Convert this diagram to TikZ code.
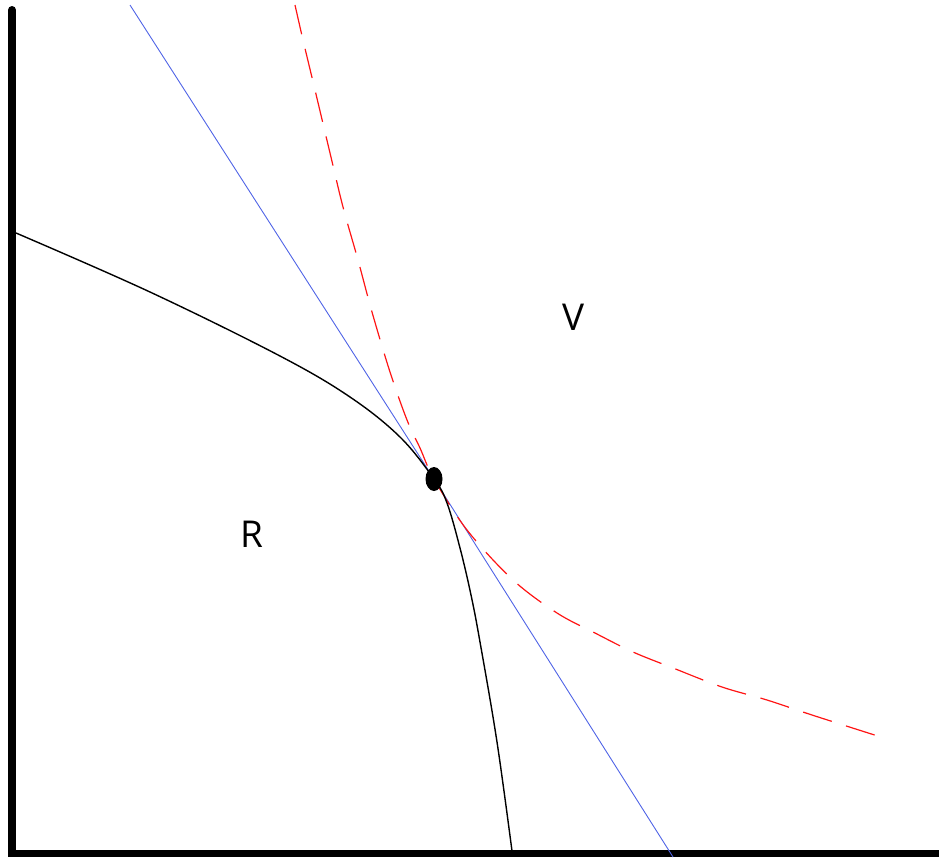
\documentclass[tikz,border=0pt]{standalone}
\usepackage{fontspec}
\setmainfont{Open Sans}
\usetikzlibrary{shapes.geometric}
\definecolor{tanblue}{RGB}{80,100,230}
\definecolor{indred}{RGB}{255,20,20}
\begin{document}
\begin{tikzpicture}[x=1pt,y=-1pt,
  axisline/.style={line width=8pt,black},
  frontier/.style={line width=1.4pt,black},
  tangent/.style={line width=0.9pt,tanblue},
  indiff/.style={line width=1.2pt,indred,dash pattern=on 30pt off 15pt},
  lab/.style={font=\fontsize{37}{40}\selectfont,text=black,inner sep=0pt}]
\useasboundingbox (0,0) rectangle (939,857);
% axes
\coordinate (ytop) at (12,10);
\coordinate (orig) at (12,853.5);
\coordinate (xend) at (939,853.5);
\draw[axisline,line cap=round] (ytop) -- (12,849);
\draw[axisline,line width=7pt] (8,853.5) -- (xend);
\draw[axisline,line width=8pt] (12,849) -- (12,857);
% tangency point
\coordinate (p) at (434,479);
% tangent line
\coordinate (bt) at (130,5);
\coordinate (bb) at (673,857);
\draw[tangent] (bt) -- (p) -- (bb);
% indifference curve (dashed)
\draw[indiff] plot[smooth,tension=0.55] coordinates {(295,5) (303,40) (315,90) (330,153) (343,207) (358,260) (372,312) (390,372) (407,420) (420,448) (p) (467,530) (513,580) (557,613) (595,633) (633,652) (673,668) (722,687) (767,700) (812,715) (884,738)};
% frontier curve
\draw[frontier] plot[smooth,tension=0.6] coordinates {(16,233) (150,292) (280,356) (350,397) (400,437) (p) (447,503) (460,548) (471,595) (480,642) (497,742) (512,851)};
% point
\node[ellipse,fill=black,minimum width=17pt,minimum height=24pt,inner sep=0pt] (pt) at (p) {};
% labels
\node[lab] (V) at (574,317) {V};
\node[lab] (R) at (252,534) {R};
\end{tikzpicture}
\end{document}
